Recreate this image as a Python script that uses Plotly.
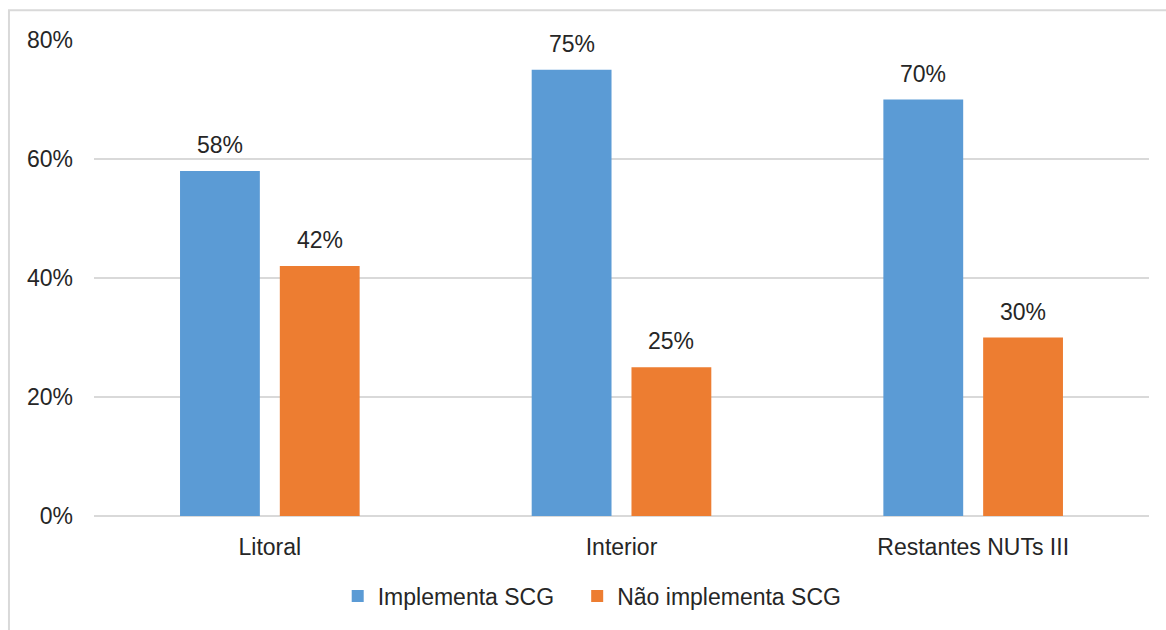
import plotly.graph_objects as go

categories = ["Litoral", "Interior", "Restantes NUTs III"]
implementa = [58, 75, 70]
nao_implementa = [42, 25, 30]
series_names = ["Implementa SCG", "Não implementa SCG"]
y_ticks = [0, 20, 40, 60, 80]
y_tick_labels = ["0%", "20%", "40%", "60%", "80%"]

BLUE = "#5B9BD5"
ORANGE = "#ED7D31"
TEXT = "#262626"
GRID = "#D9D9D9"
FONT = "Liberation Sans, Arial, sans-serif"
FS = 23

fig = go.Figure()
fig.add_trace(go.Bar(x=categories, y=implementa, name=series_names[0],
                     marker=dict(color=BLUE, line=dict(width=0)),
                     legend="legend"))
fig.add_trace(go.Bar(x=categories, y=nao_implementa, name=series_names[1],
                     marker=dict(color=ORANGE, line=dict(width=0)),
                     legend="legend2"))

# value labels above each bar, shifted to its slot within the group
slot = 49.9
for vals, shift in ((implementa, -slot), (nao_implementa, slot)):
    for c, v in zip(categories, vals):
        fig.add_annotation(x=c, y=v, text=f"{v}%", showarrow=False,
                           xshift=shift, yshift=26, yanchor="middle",
                           font=dict(size=FS, color=TEXT, family=FONT))

# light outer frame
fig.add_shape(type="rect", xref="paper", yref="paper",
              x0=-0.0806, x1=1.03, y0=-0.3, y1=1.0624,
              line=dict(color=GRID, width=2), layer="below")

legend_style = dict(orientation="h", xanchor="left", y=-0.168,
                    yanchor="middle", font=dict(size=FS, color=TEXT),
                    itemwidth=30, bgcolor="rgba(0,0,0,0)")

fig.update_layout(
    width=1166, height=630,
    margin=dict(l=94, r=17, t=40, b=109),
    paper_bgcolor="white", plot_bgcolor="white",
    barmode="group", bargap=0.4325, bargroupgap=0.2,
    font=dict(family=FONT, size=FS, color=TEXT),
    showlegend=True,
    legend=dict(x=0.231, **legend_style),
    legend2=dict(x=0.458, **legend_style),
)
fig.update_yaxes(range=[0, 80], tickvals=y_ticks, ticktext=y_tick_labels,
                 showgrid=True, gridcolor=GRID, gridwidth=2,
                 zeroline=True, zerolinecolor=GRID, zerolinewidth=2,
                 showline=False, ticks="", ticklabelstandoff=20,
                 tickfont=dict(size=FS, color=TEXT))
fig.update_xaxes(showgrid=False, showline=False, ticks="",
                 ticklabelstandoff=15, tickfont=dict(size=FS, color=TEXT))

fig.write_html("out.html")
